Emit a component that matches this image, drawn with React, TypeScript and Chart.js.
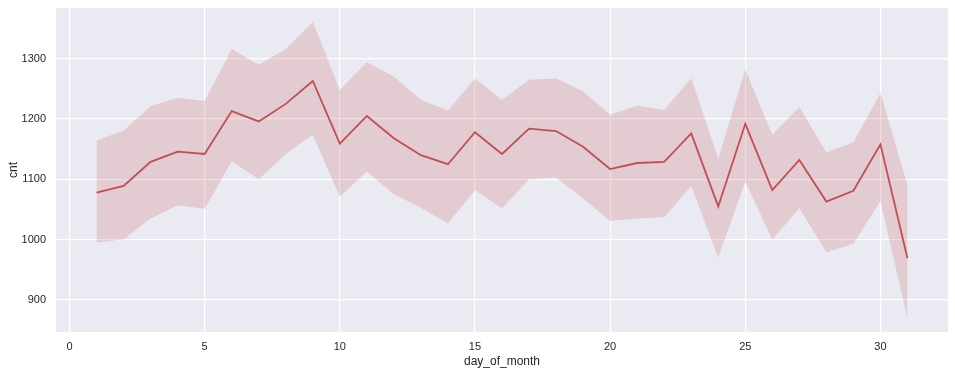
import React, { useEffect, useRef } from "react";
import { Chart, registerables } from "chart.js";

Chart.register(...registerables);

const days = [1,2,3,4,5,6,7,8,9,10,11,12,13,14,15,16,17,18,19,20,21,22,23,24,25,26,27,28,29,30,31];
const meanCnt = [1078,1089,1129,1146,1142,1213,1196,1225,1263,1159,1205,1168,1140,1125,1178,1142,1184,1180,1154,1117,1127,1129,1176,1055,1192,1082,1132,1063,1081,1158,969];
const upperCI = [1164,1181,1221,1235,1230,1316,1290,1316,1361,1248,1294,1270,1232,1214,1267,1232,1265,1267,1246,1207,1222,1215,1268,1134,1282,1174,1220,1145,1161,1243,1090];
const lowerCI = [995,1000,1035,1057,1051,1130,1100,1142,1174,1071,1113,1075,1053,1027,1082,1052,1100,1103,1068,1031,1035,1037,1089,970,1096,1000,1052,979,993,1064,869];
const xTicks = [0,5,10,15,20,25,30];
const yTicks = [900,1000,1100,1200,1300];

const bgPlugin = {
  id: "plotBg",
  beforeDraw(chart: any) {
    const { ctx, chartArea } = chart;
    ctx.save();
    ctx.fillStyle = "#EAEAF2";
    ctx.fillRect(chartArea.left, chartArea.top, chartArea.right - chartArea.left, chartArea.bottom - chartArea.top);
    ctx.restore();
  },
};

export default function App() {
  const ref = useRef<HTMLCanvasElement>(null);
  useEffect(() => {
    document.body.style.margin = "0";
    const pts = (arr: number[]) => days.map((d, i) => ({ x: d, y: arr[i] }));
    const font = { family: "'Liberation Sans', Arial, sans-serif", size: 11 };
    const chart = new Chart(ref.current as HTMLCanvasElement, {
      type: "line",
      data: {
        datasets: [
          { data: pts(upperCI), borderWidth: 0, pointRadius: 0, backgroundColor: "rgba(196,78,82,0.2)", fill: "+1", tension: 0 },
          { data: pts(lowerCI), borderWidth: 0, pointRadius: 0, backgroundColor: "rgba(196,78,82,0.2)", fill: false, tension: 0 },
          { data: pts(meanCnt), borderColor: "#C44E52", borderWidth: 1.8, pointRadius: 0, fill: false, tension: 0 },
        ],
      },
      options: {
        animation: false,
        responsive: false,
        layout: { padding: { top: 8, right: 7, left: 0, bottom: 0 } },
        plugins: { legend: { display: false }, tooltip: { enabled: false } },
        scales: {
          x: {
            type: "linear",
            min: -0.5,
            max: 32.5,
            afterBuildTicks: (axis: any) => { axis.ticks = xTicks.map((v) => ({ value: v })); },
            afterFit: (axis: any) => { axis.height = 42; axis.paddingLeft = 0; axis.paddingRight = 0; },
            grid: { color: "#FFFFFF", lineWidth: 1.2, drawTicks: false },
            border: { display: false },
            ticks: { color: "#262626", font, padding: 8, maxRotation: 0, callback: (v: any) => String(v) },
            title: { display: true, text: "day_of_month", color: "#262626", font: { ...font, size: 12 }, padding: { top: 1, bottom: 5 } },
          },
          y: {
            type: "linear",
            min: 846.8,
            max: 1384,
            afterBuildTicks: (axis: any) => { axis.ticks = yTicks.map((v) => ({ value: v })); },
            afterFit: (axis: any) => { axis.width = 56; axis.paddingTop = 0; axis.paddingBottom = 0; },
            grid: { color: "#FFFFFF", lineWidth: 1.2, drawTicks: false },
            border: { display: false },
            ticks: { color: "#262626", font, padding: 10, callback: (v: any) => String(v) },
            title: { display: true, text: "cnt", color: "#262626", font: { ...font, size: 12 }, padding: { top: 6, bottom: 0 } },
          },
        },
      },
      plugins: [bgPlugin],
    } as any);
    return () => chart.destroy();
  }, []);
  return <canvas ref={ref} width={955} height={374} style={{ display: "block" }} />;
}
